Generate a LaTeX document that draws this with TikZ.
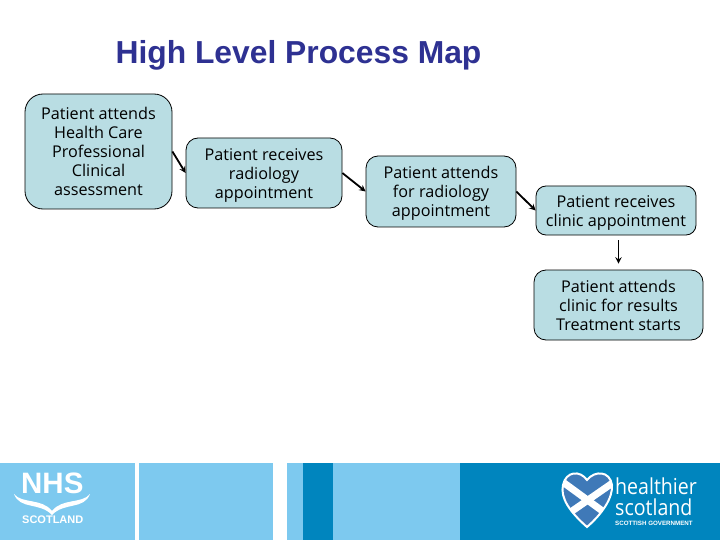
\documentclass[tikz,border=0pt]{standalone}
\usepackage{fontspec}
\setmainfont{Liberation Sans}
\newfontfamily\boxfont{Open Sans}
\definecolor{titleblue}{HTML}{2E3192}
\definecolor{boxblue}{HTML}{B9DDE3}
\definecolor{bandlight}{HTML}{7DC9EF}
\definecolor{banddark}{HTML}{0085BE}
\definecolor{heartblue}{HTML}{3F79B8}
\newcommand{\lowerlines}{\rule{0pt}{16pt}}
\tikzset{
  stepbox/.style={draw, rectangle, rounded corners=12pt, fill=boxblue, line width=0.8pt, inner sep=0pt,
    align=center, font=\boxfont\fontsize{16.2}{19}\selectfont},
  logotext/.style={text=white, inner sep=0pt, anchor=west},
  link/.style={->, >=stealth, line width=1.8pt}
}
\begin{document}
\begin{tikzpicture}[x=1pt,y=-1pt]
\useasboundingbox (0,0) rectangle (720,540);

% footer bands
\fill[bandlight] (0,463) rectangle (135,540);
\fill[bandlight] (139,463) rectangle (273,540);
\fill[bandlight] (287,463) rectangle (460,540);
\fill[banddark] (303,463) rectangle (333,540);
\fill[banddark] (460,463) rectangle (720,540);

\node[font=\bfseries\fontsize{31.8}{36}\selectfont, text=titleblue, inner sep=0pt] (title) at (298.5,55) {High Level Process Map};

\node[stepbox, minimum width=147pt, minimum height=115pt, rounded corners=18pt] (assess) at (98.5,151.5) {Patient attends\\Health Care\\Professional\\Clinical\\assessment};
\node[stepbox, minimum width=156pt, minimum height=70pt] (xray) at (264,173) {\lowerlines Patient receives\\radiology\\appointment};
\node[stepbox, minimum width=150pt, minimum height=71pt] (attend) at (441,191.5) {\lowerlines Patient attends\\for radiology\\appointment};
\node[stepbox, minimum width=160pt, minimum height=49pt, rounded corners=10pt] (clinic) at (616,210.5) {\lowerlines Patient receives\\clinic appointment};
\node[stepbox, minimum width=169pt, minimum height=70pt] (results) at (618.5,305) {Patient attends\\clinic for results\\Treatment starts};

\draw[link] (assess.east) -- (xray.west);
\draw[link] (xray.east) -- (attend.west);
\draw[link] (attend.east) -- (clinic.west);
\draw[link, shorten <=5pt, shorten >=6pt] (results.north |- clinic.south) -- (results.north);

% left logo
\node[logotext, font=\bfseries\fontsize{29.5}{30}\selectfont] (nhs) at (21,483) {NHS};
\fill[white] (14,494) .. controls (22,504) and (42,498) .. (52,511) .. controls (62,498) and (82,504) .. (90,494)
  .. controls (84,510) and (64,502) .. (52,515) .. controls (40,502) and (20,510) .. (14,494) -- cycle;
\node[logotext, font=\bfseries\fontsize{11}{12}\selectfont] (scot) at (22,520) {SCOTLAND};

% right logo
\begin{scope}
\clip (587,527) .. controls (570,512) and (560,498) .. (563,485) .. controls (566,471) and (580,470) .. (587,480)
  .. controls (595,470) and (610,471) .. (612,485) .. controls (613,498) and (602,514) .. (587,527) -- cycle;
\fill[heartblue] (555,465) rectangle (620,530);
\draw[white, line width=7pt] (560,480) -- (612,518);
\draw[white, line width=7pt] (614,482) -- (562,518);
\end{scope}
\draw[white, line width=2pt] (587,527) .. controls (570,512) and (560,498) .. (563,485) .. controls (566,471) and (580,470) .. (587,480)
  .. controls (595,470) and (610,471) .. (612,485) .. controls (613,498) and (602,514) .. (587,527) -- cycle;
\node[logotext, xscale=0.89, transform shape, align=left, font=\boxfont\fontsize{22}{21}\selectfont] (healthier) at (615,497) {healthier\\scotland};
\node[logotext, font=\bfseries\fontsize{6.2}{7}\selectfont] (gov) at (615,523.5) {SCOTTISH GOVERNMENT};
\end{tikzpicture}
\end{document}
